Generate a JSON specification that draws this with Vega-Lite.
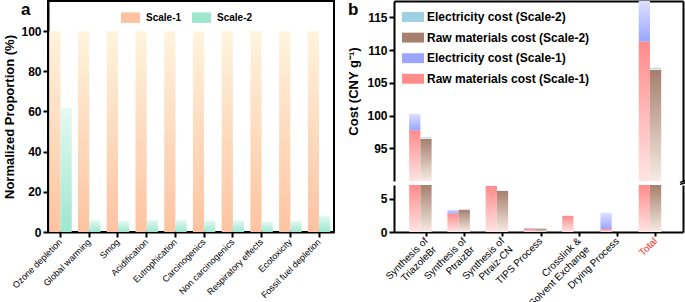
{
  "$schema": "https://vega.github.io/schema/vega-lite/v6.json",
  "padding": {"left": 2, "top": 0, "right": 0, "bottom": 0},
  "autosize": {"type": "pad"},
  "background": "white",
  "config": {
    "font": "Liberation Sans",
    "view": {"stroke": null},
    "axis": {"domainColor": "black", "domainWidth": 2, "tickColor": "black", "tickWidth": 2, "labelColor": "black", "titleColor": "black", "grid": false, "labelFont": "Liberation Sans", "titleFont": "Liberation Sans"},
    "legend": {"labelFont": "Liberation Sans", "labelColor": "black", "padding": 0, "labelLimit": 300}
  },
  "spacing": 60,
  "bounds": "flush",
  "resolve": {"scale": {"color": "independent", "shape": "independent", "opacity": "independent", "fillOpacity": "independent", "strokeDash": "independent"}, "legend": {"color": "independent", "shape": "independent", "opacity": "independent", "fillOpacity": "independent", "strokeDash": "independent"}},
  "hconcat": [
    {
      "width": 286,
      "height": 231,
      "view": {"stroke": "black", "strokeWidth": 2},
      "data": {"values": [
        {"category": "Ozone depletion", "scale": "Scale-1", "value": 100},
        {"category": "Ozone depletion", "scale": "Scale-2", "value": 61.9},
        {"category": "Global warming", "scale": "Scale-1", "value": 100},
        {"category": "Global warming", "scale": "Scale-2", "value": 5.8},
        {"category": "Smog", "scale": "Scale-1", "value": 100},
        {"category": "Smog", "scale": "Scale-2", "value": 5.5},
        {"category": "Acidification", "scale": "Scale-1", "value": 100},
        {"category": "Acidification", "scale": "Scale-2", "value": 6.1},
        {"category": "Eutrophication", "scale": "Scale-1", "value": 100},
        {"category": "Eutrophication", "scale": "Scale-2", "value": 6.1},
        {"category": "Carcinogenics", "scale": "Scale-1", "value": 100},
        {"category": "Carcinogenics", "scale": "Scale-2", "value": 5.8},
        {"category": "Non carcinogenics", "scale": "Scale-1", "value": 100},
        {"category": "Non carcinogenics", "scale": "Scale-2", "value": 5.8},
        {"category": "Respiratory effects", "scale": "Scale-1", "value": 100},
        {"category": "Respiratory effects", "scale": "Scale-2", "value": 5.1},
        {"category": "Ecotoxicity", "scale": "Scale-1", "value": 100},
        {"category": "Ecotoxicity", "scale": "Scale-2", "value": 5.6},
        {"category": "Fossil fuel depletion", "scale": "Scale-1", "value": 100},
        {"category": "Fossil fuel depletion", "scale": "Scale-2", "value": 8.1}
      ]},
      "layer": [
        {
          "mark": {"type": "bar"},
          "encoding": {
            "x": {"field": "category", "type": "nominal", "sort": null,
              "scale": {"paddingInner": 0.218, "paddingOuter": 0.087, "align": 0.26},
              "axis": {"title": null, "labelAngle": -45, "labelAlign": "right", "labelBaseline": "middle", "labelFontSize": 9, "labelPadding": 3, "tickSize": 5}},
            "xOffset": {"field": "scale", "type": "nominal", "scale": {"paddingInner": 0, "paddingOuter": 0}},
            "y": {"field": "value", "type": "quantitative",
              "scale": {"domain": [0, 115], "nice": false},
              "axis": {"values": [0, 20, 40, 60, 80, 100], "title": "Normalized Proportion (%)", "titleFontSize": 13, "titleFontWeight": "bold", "titlePadding": 4, "labelFontSize": 12, "labelFontWeight": "bold", "labelPadding": 2, "tickSize": 5}},
            "color": {
              "condition": {"test": "datum.scale === 'Scale-1'", "value": {"gradient": "linear", "x1": 0, "y1": 0, "x2": 0, "y2": 1, "stops": [{"offset": 0, "color": "#fef4dd"}, {"offset": 1, "color": "#fdc3a1"}]}},
              "value": {"gradient": "linear", "x1": 0, "y1": 0, "x2": 0, "y2": 1, "stops": [{"offset": 0, "color": "#e4f9f1"}, {"offset": 1, "color": "#9fe7cf"}]}
            }
          }
        },
        {
          "mark": {"type": "square", "opacity": 0},
          "encoding": {
            "color": {"field": "scale", "type": "nominal",
              "scale": {"domain": ["Scale-1", "Scale-2"], "range": ["#fdc3a1", "#9fe6cf"]},
              "legend": {"title": null, "orient": "none", "legendX": 73, "legendY": 7, "direction": "horizontal", "symbolType": "M-1,-0.55H1V0.55H-1Z", "symbolSize": 361, "symbolStrokeWidth": 0, "labelFontSize": 10, "labelFontWeight": "bold", "labelOffset": 6, "columnPadding": 10,
                "encode": {"symbols": {"update": {
                  "opacity": {"value": 1}, "fillOpacity": {"value": 1}, "strokeWidth": {"value": 0},
                  "fill": [
                    {"test": "datum.value === 'Scale-1'", "value": {"gradient": "linear", "x1": 0, "y1": 0, "x2": 0, "y2": 1, "stops": [{"offset": 0, "color": "#fef0dd"}, {"offset": 1, "color": "#fdc3a1"}]}},
                    {"value": {"gradient": "linear", "x1": 0, "y1": 0, "x2": 0, "y2": 1, "stops": [{"offset": 0, "color": "#e4f9f1"}, {"offset": 1, "color": "#9fe7cf"}]}}
                  ]}}}}}
          }
        },
        {
          "mark": {"type": "point", "opacity": 0},
          "encoding": {
            "shape": {"datum": "a",
              "legend": {"title": null, "orient": "none", "legendX": -44, "legendY": 0, "symbolSize": 0, "symbolStrokeWidth": 0, "labelFontSize": 17, "labelFontWeight": "bold", "labelOffset": 0,
                "encode": {"symbols": {"update": {"opacity": {"value": 0}, "size": {"value": 0}}}}}}
          }
        },
        {
          "mark": {"type": "point", "size": 0, "strokeWidth": 0, "fillOpacity": 0, "strokeOpacity": 0},
          "encoding": {
            "opacity": {"datum": "b",
              "legend": {"title": null, "orient": "none", "legendX": 283, "legendY": 0, "symbolSize": 0, "symbolStrokeWidth": 0, "symbolStrokeColor": "transparent", "symbolFillColor": "transparent", "labelFontSize": 17, "labelFontWeight": "bold", "labelOffset": 0,
                "encode": {"symbols": {"update": {"size": {"value": 0}, "fill": {"value": "transparent"}, "stroke": {"value": "transparent"}}}}}}
          }
        }
      ]
    },
    {
      "data": {"values": [
        {"cat": "Synthesis of|TriazoleBr", "scale": "Scale-1", "type": "Raw materials", "series": "Raw materials cost (Scale-1)", "value": 97.75},
        {"cat": "Synthesis of|TriazoleBr", "scale": "Scale-1", "type": "Electricity", "series": "Electricity cost (Scale-1)", "value": 2.5},
        {"cat": "Synthesis of|TriazoleBr", "scale": "Scale-2", "type": "Raw materials", "series": "Raw materials cost (Scale-2)", "value": 96.45},
        {"cat": "Synthesis of|TriazoleBr", "scale": "Scale-2", "type": "Electricity", "series": "Electricity cost (Scale-2)", "value": 0.2},
        {"cat": "Synthesis of|PtraizBr", "scale": "Scale-1", "type": "Raw materials", "series": "Raw materials cost (Scale-1)", "value": 2.8},
        {"cat": "Synthesis of|PtraizBr", "scale": "Scale-1", "type": "Electricity", "series": "Electricity cost (Scale-1)", "value": 0.55},
        {"cat": "Synthesis of|PtraizBr", "scale": "Scale-2", "type": "Raw materials", "series": "Raw materials cost (Scale-2)", "value": 3.35},
        {"cat": "Synthesis of|PtraizBr", "scale": "Scale-2", "type": "Electricity", "series": "Electricity cost (Scale-2)", "value": 0.03},
        {"cat": "Synthesis of|Ptraiz-CN", "scale": "Scale-1", "type": "Raw materials", "series": "Raw materials cost (Scale-1)", "value": 6.95},
        {"cat": "Synthesis of|Ptraiz-CN", "scale": "Scale-1", "type": "Electricity", "series": "Electricity cost (Scale-1)", "value": 0.02},
        {"cat": "Synthesis of|Ptraiz-CN", "scale": "Scale-2", "type": "Raw materials", "series": "Raw materials cost (Scale-2)", "value": 6.2},
        {"cat": "Synthesis of|Ptraiz-CN", "scale": "Scale-2", "type": "Electricity", "series": "Electricity cost (Scale-2)", "value": 0.02},
        {"cat": "TIPS Process", "scale": "Scale-1", "type": "Raw materials", "series": "Raw materials cost (Scale-1)", "value": 0.45},
        {"cat": "TIPS Process", "scale": "Scale-1", "type": "Electricity", "series": "Electricity cost (Scale-1)", "value": 0.15},
        {"cat": "TIPS Process", "scale": "Scale-2", "type": "Raw materials", "series": "Raw materials cost (Scale-2)", "value": 0.5},
        {"cat": "TIPS Process", "scale": "Scale-2", "type": "Electricity", "series": "Electricity cost (Scale-2)", "value": 0.02},
        {"cat": "Crosslink &|Solvent Exchange", "scale": "Scale-1", "type": "Raw materials", "series": "Raw materials cost (Scale-1)", "value": 2.45},
        {"cat": "Crosslink &|Solvent Exchange", "scale": "Scale-1", "type": "Electricity", "series": "Electricity cost (Scale-1)", "value": 0},
        {"cat": "Crosslink &|Solvent Exchange", "scale": "Scale-2", "type": "Raw materials", "series": "Raw materials cost (Scale-2)", "value": 0},
        {"cat": "Crosslink &|Solvent Exchange", "scale": "Scale-2", "type": "Electricity", "series": "Electricity cost (Scale-2)", "value": 0},
        {"cat": "Drying Process", "scale": "Scale-1", "type": "Raw materials", "series": "Raw materials cost (Scale-1)", "value": 0.45},
        {"cat": "Drying Process", "scale": "Scale-1", "type": "Electricity", "series": "Electricity cost (Scale-1)", "value": 2.45},
        {"cat": "Drying Process", "scale": "Scale-2", "type": "Raw materials", "series": "Raw materials cost (Scale-2)", "value": 0},
        {"cat": "Drying Process", "scale": "Scale-2", "type": "Electricity", "series": "Electricity cost (Scale-2)", "value": 0},
        {"cat": "Total", "scale": "Scale-1", "type": "Raw materials", "series": "Raw materials cost (Scale-1)", "value": 111.3},
        {"cat": "Total", "scale": "Scale-1", "type": "Electricity", "series": "Electricity cost (Scale-1)", "value": 6.5},
        {"cat": "Total", "scale": "Scale-2", "type": "Raw materials", "series": "Raw materials cost (Scale-2)", "value": 107.0},
        {"cat": "Total", "scale": "Scale-2", "type": "Electricity", "series": "Electricity cost (Scale-2)", "value": 0.3}
      ]},
      "spacing": 4,
      "bounds": "flush",
      "resolve": {"scale": {"y": "independent", "x": "independent", "fillOpacity": "independent", "strokeDash": "independent"}, "legend": {"fillOpacity": "independent", "strokeDash": "independent"}},
      "vconcat": [
        {
          "width": 289,
          "height": 180,
          "resolve": {"axis": {"y": "independent"}},
          "layer": [
            {
              "mark": {"type": "bar"},
              "encoding": {
                "x": {"field": "cat", "type": "nominal", "sort": null,
                  "scale": {"paddingInner": 0.107, "paddingOuter": 0.33, "align": 0.6},
                  "axis": {"orient": "top", "labels": false, "ticks": false, "title": null}},
                "xOffset": {"field": "scale", "type": "nominal", "scale": {"paddingInner": 0, "paddingOuter": 0}},
                "y": {"field": "value", "type": "quantitative", "stack": "zero",
                  "scale": {"domain": [90, 117.5], "nice": false, "zero": false, "clamp": true},
                  "axis": {"values": [95, 100, 105, 110, 115], "title": "Cost (CNY g⁻¹)", "titleFontSize": 13, "titleFontWeight": "bold", "titlePadding": 6, "labelFontSize": 12, "labelFontWeight": "bold", "labelPadding": 2, "tickSize": 5}},
                "detail": {"field": "series", "type": "nominal"},
                "order": {"field": "type", "sort": "descending"},
                "color": {
                  "condition": [
                    {"test": "datum.series === 'Electricity cost (Scale-2)'", "value": {"gradient": "linear", "x1": 0, "y1": 0, "x2": 0, "y2": 1, "stops": [{"offset": 0, "color": "#9fcfe3"}, {"offset": 1, "color": "#e8f5f9"}]}},
                    {"test": "datum.series === 'Raw materials cost (Scale-2)'", "value": {"gradient": "linear", "x1": 0, "y1": 0, "x2": 0, "y2": 1, "stops": [{"offset": 0, "color": "#a67f6e"}, {"offset": 1, "color": "#f6ebe2"}]}},
                    {"test": "datum.series === 'Electricity cost (Scale-1)'", "value": {"gradient": "linear", "x1": 0, "y1": 0, "x2": 0, "y2": 1, "stops": [{"offset": 0, "color": "#dde0ff"}, {"offset": 1, "color": "#9aa5ff"}]}}
                  ],
                  "value": {"gradient": "linear", "x1": 0, "y1": 0, "x2": 0, "y2": 1, "stops": [{"offset": 0, "color": "#ff8b8b"}, {"offset": 1, "color": "#ffe4e4"}]}
                }
              }
            },
            {
              "mark": {"type": "square", "opacity": 0},
              "encoding": {
                "y": {"field": "value", "type": "quantitative", "axis": {"orient": "right", "labels": false, "ticks": false, "title": null}},
                "color": {"field": "series", "type": "nominal",
                  "scale": {"domain": ["Electricity cost (Scale-2)", "Raw materials cost (Scale-2)", "Electricity cost (Scale-1)", "Raw materials cost (Scale-1)"], "range": ["#9fcfe3", "#a67f6e", "#9aa5ff", "#ff8b8b"]},
                  "legend": {"title": null, "orient": "none", "legendX": 8, "legendY": 5, "direction": "vertical", "symbolType": "M-1,-0.45H1V0.45H-1Z", "symbolSize": 484, "symbolStrokeWidth": 0, "labelFontSize": 12, "labelFontWeight": "bold", "labelOffset": 3, "rowPadding": 3.6,
                    "encode": {"symbols": {"update": {
                      "opacity": {"value": 1}, "fillOpacity": {"value": 1}, "strokeWidth": {"value": 0},
                      "fill": [
                        {"test": "datum.value === 'Electricity cost (Scale-2)'", "value": {"gradient": "linear", "x1": 0, "y1": 0, "x2": 0, "y2": 1, "stops": [{"offset": 0, "color": "#9fcfe3"}, {"offset": 1, "color": "#e8f5f9"}]}},
                        {"test": "datum.value === 'Raw materials cost (Scale-2)'", "value": {"gradient": "linear", "x1": 0, "y1": 0, "x2": 0, "y2": 1, "stops": [{"offset": 0, "color": "#a67f6e"}, {"offset": 1, "color": "#f6ebe2"}]}},
                        {"test": "datum.value === 'Electricity cost (Scale-1)'", "value": {"gradient": "linear", "x1": 0, "y1": 0, "x2": 0, "y2": 1, "stops": [{"offset": 0, "color": "#dde0ff"}, {"offset": 1, "color": "#9aa5ff"}]}},
                        {"value": {"gradient": "linear", "x1": 0, "y1": 0, "x2": 0, "y2": 1, "stops": [{"offset": 0, "color": "#ff8b8b"}, {"offset": 1, "color": "#ffe4e4"}]}}
                      ]}}}}}
              }
            }
          ]
        },
        {
          "width": 289,
          "height": 47,
          "resolve": {"axis": {"y": "independent"}},
          "layer": [
            {
              "mark": {"type": "bar"},
              "encoding": {
                "x": {"field": "cat", "type": "nominal", "sort": null,
                  "scale": {"paddingInner": 0.107, "paddingOuter": 0.33, "align": 0.6},
                  "axis": {"title": null, "labelAngle": -45, "labelAlign": "right", "labelBaseline": "middle", "labelFontSize": 10, "labelPadding": 3, "labelLineHeight": 12, "tickSize": 4,
                    "labelExpr": "split(datum.value, '|')",
                    "labelColor": {"condition": {"test": "datum.value === 'Total'", "value": "#ff2a2a"}, "value": "black"}}},
                "xOffset": {"field": "scale", "type": "nominal", "scale": {"paddingInner": 0, "paddingOuter": 0}},
                "y": {"field": "value", "type": "quantitative", "stack": "zero",
                  "scale": {"domain": [0, 7.1], "nice": false, "clamp": true},
                  "axis": {"values": [0, 5], "title": null, "labelFontSize": 12, "labelFontWeight": "bold", "labelPadding": 2, "tickSize": 5}},
                "detail": {"field": "series", "type": "nominal"},
                "order": {"field": "type", "sort": "descending"},
                "color": {
                  "condition": [
                    {"test": "datum.series === 'Electricity cost (Scale-2)'", "value": {"gradient": "linear", "x1": 0, "y1": 0, "x2": 0, "y2": 1, "stops": [{"offset": 0, "color": "#9fcfe3"}, {"offset": 1, "color": "#e8f5f9"}]}},
                    {"test": "datum.series === 'Raw materials cost (Scale-2)'", "value": {"gradient": "linear", "x1": 0, "y1": 0, "x2": 0, "y2": 1, "stops": [{"offset": 0, "color": "#a67f6e"}, {"offset": 1, "color": "#f6ebe2"}]}},
                    {"test": "datum.series === 'Electricity cost (Scale-1)'", "value": {"gradient": "linear", "x1": 0, "y1": 0, "x2": 0, "y2": 1, "stops": [{"offset": 0, "color": "#dde0ff"}, {"offset": 1, "color": "#9aa5ff"}]}}
                  ],
                  "value": {"gradient": "linear", "x1": 0, "y1": 0, "x2": 0, "y2": 1, "stops": [{"offset": 0, "color": "#ff8b8b"}, {"offset": 1, "color": "#ffe4e4"}]}
                }
              }
            },
            {
              "mark": {"type": "point", "opacity": 0},
              "encoding": {
                "y": {"field": "value", "type": "quantitative", "axis": {"orient": "right", "labels": false, "ticks": false, "title": null}}
              }
            },
            {
              "mark": {"type": "point", "opacity": 0},
              "encoding": {
                "fillOpacity": {"datum": "break-left",
                  "legend": {"title": null, "orient": "none", "legendX": -4, "legendY": -8, "symbolType": "M-1,0.1L1,-0.5M-1,0.6L1,0", "symbolSize": 64, "symbolStrokeColor": "black", "symbolStrokeWidth": 1.5, "symbolFillColor": "transparent", "symbolOpacity": 1, "labelExpr": "''", "labelFontSize": 1, "labelOffset": 0,
                    "encode": {"symbols": {"update": {"opacity": {"value": 1}, "stroke": {"value": "black"}, "strokeWidth": {"value": 1.5}, "fill": {"value": "transparent"}}}}}}
              }
            },
            {
              "mark": {"type": "point", "opacity": 0},
              "encoding": {
                "strokeDash": {"datum": "break-right",
                  "legend": {"title": null, "orient": "none", "legendX": 285, "legendY": -8, "symbolType": "M-1,0.1L1,-0.5M-1,0.6L1,0", "symbolSize": 64, "symbolStrokeColor": "black", "symbolStrokeWidth": 1.5, "symbolFillColor": "transparent", "symbolOpacity": 1, "labelExpr": "''", "labelFontSize": 1, "labelOffset": 0,
                    "encode": {"symbols": {"update": {"opacity": {"value": 1}, "stroke": {"value": "black"}, "strokeWidth": {"value": 1.5}, "fill": {"value": "transparent"}}}}}}
              }
            }
          ]
        }
      ]
    }
  ]
}
